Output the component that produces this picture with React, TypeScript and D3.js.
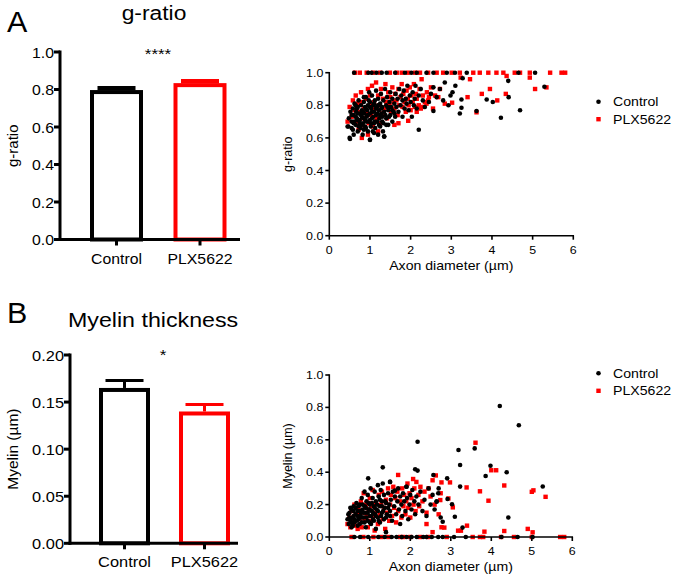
import React from "react";
import * as d3 from "d3";

// ---------- DATA ----------
const groups = ["Control", "PLX5622"];
const gRatioMean = [0.797, 0.834];
const gRatioSem = [0.01, 0.01];
const myelinMean = [0.165, 0.14];
const myelinSem = [0.008, 0.0075];
const gRatioTicks = [0, 0.2, 0.4, 0.6, 0.8, 1.0];
const myelinBarTicks = [0, 0.05, 0.1, 0.15, 0.2];
const scatterYTicks = [0, 0.2, 0.4, 0.6, 0.8, 1.0];
const scatterXTicks = [0, 1, 2, 3, 4, 5, 6];

// g-ratio vs axon diameter: [diameter µm, g-ratio]
const gControl: [number, number][] = [
  [0.45,0.67],[0.48,0.72],[0.5,0.6],[0.52,0.76],[0.55,0.66],[0.55,0.7],[0.58,0.78],[0.6,0.62],[0.6,0.74],[0.62,0.81],
  [0.65,0.68],[0.66,0.76],[0.68,0.72],[0.7,0.64],[0.7,0.79],[0.72,0.83],[0.74,0.7],[0.75,0.75],[0.77,0.66],[0.78,0.8],
  [0.8,0.73],[0.8,0.77],[0.82,0.62],[0.83,0.69],[0.85,0.82],[0.86,0.75],[0.88,0.71],[0.88,0.79],[0.9,0.66],[0.9,0.85],
  [0.92,0.73],[0.93,0.77],[0.95,0.64],[0.95,0.8],[0.97,0.7],[0.98,0.88],[1.0,0.59],[1.0,0.75],[1.0,0.82],[1.02,0.67],
  [1.03,0.78],[1.05,0.72],[1.05,0.86],[1.07,0.64],[1.08,0.8],[1.1,0.69],[1.1,0.76],[1.12,0.83],[1.13,0.66],[1.15,0.74],
  [1.15,0.89],[1.17,0.79],[1.18,0.7],[1.2,0.62],[1.2,0.84],[1.22,0.77],[1.23,0.72],[1.25,0.67],[1.25,0.81],[1.27,0.87],
  [1.28,0.75],[1.3,0.7],[1.3,0.79],[1.32,0.64],[1.33,0.83],[1.35,0.61],[1.35,0.76],[1.37,0.9],[1.4,0.72],[1.4,0.8],
  [1.42,0.85],[1.45,0.68],[1.45,0.77],[1.48,0.82],[1.5,0.74],[1.5,0.88],[1.52,0.79],[1.55,0.7],[1.55,0.84],[1.58,0.76],
  [1.6,0.81],[1.62,0.73],[1.63,0.87],[1.65,0.79],[1.68,0.84],[1.7,0.76],[1.72,0.9],[1.75,0.8],[1.77,0.86],[1.8,0.73],
  [1.8,0.83],[1.83,0.89],[1.85,0.78],[1.88,0.84],[1.9,0.81],[1.92,0.92],[1.95,0.77],[1.98,0.86],[2.0,0.82],[2.03,0.73],
  [2.05,0.88],[2.08,0.8],[2.1,0.84],[2.12,0.92],[2.15,0.78],[2.2,0.86],[2.2,0.65],[2.25,0.9],[2.3,0.83],[2.35,0.79],
  [0.51,0.593],[1.0,0.587],[1.35,0.607],[0.47,0.67],[0.62,0.7],[0.75,0.68],[0.85,0.65],[1.1,0.63],[0.58,0.65],[0.7,0.71],
  [0.6,0.69],[0.65,0.73],[0.68,0.78],[0.72,0.67],[0.75,0.71],[0.78,0.74],[0.8,0.68],[0.83,0.76],[0.85,0.72],[0.88,0.67],
  [0.9,0.78],[0.92,0.7],[0.95,0.74],[0.97,0.83],[1.0,0.71],[1.0,0.79],[1.03,0.69],[1.05,0.76],[1.08,0.73],[1.1,0.81],
  [1.12,0.7],[1.15,0.78],[1.18,0.75],[1.2,0.8],[1.22,0.68],[1.25,0.74],[1.28,0.78],[1.3,0.73],[1.33,0.69],[1.38,0.74],
  [1.4,0.68],[1.43,0.79],[1.47,0.73],[1.5,0.79],[1.55,0.77],[1.6,0.75],[0.55,0.74],[0.65,0.8],[0.7,0.75],[0.85,0.85],
  [3.28,0.966],[2.84,0.94],[4.4,0.95],[5.29,0.914],[3.1,0.92],[3.03,0.88],[2.98,0.86],[3.25,0.836],[2.93,0.8],[3.25,0.785],
  [3.21,0.75],[3.62,0.765],[3.87,0.836],[4.02,0.82],[4.41,0.85],[4.69,0.77],[4.22,0.724],[2.56,0.765],[2.8,0.83],[2.56,0.91],
  [2.72,0.9],[2.64,0.85],[2.45,0.82],[2.5,0.87],
  [0.61,1],[0.96,1],[1.04,1],[1.16,1],[1.29,1],[1.41,1],[1.62,1],[1.86,1],[2.02,1],[2.15,1],[2.39,1],[2.56,1],[2.89,1],[3.09,1],[3.38,1],[4.65,1],[5.06,1]
];
const gPlx: [number, number][] = [
  [0.45,0.7],[0.5,0.79],[0.55,0.73],[0.58,0.83],[0.62,0.77],[0.65,0.86],[0.68,0.7],[0.7,0.81],[0.72,0.65],[0.75,0.76],
  [0.78,0.88],[0.8,0.6],[0.8,0.82],[0.83,0.72],[0.85,0.78],[0.87,0.66],[0.9,0.84],[0.92,0.75],[0.95,0.9],[0.97,0.69],
  [1.0,0.8],[1.0,0.86],[1.03,0.74],[1.05,0.92],[1.07,0.67],[1.1,0.82],[1.12,0.78],[1.15,0.94],[1.17,0.72],[1.2,0.86],
  [1.22,0.8],[1.25,0.69],[1.27,0.9],[1.3,0.75],[1.32,0.84],[1.35,0.78],[1.38,0.93],[1.4,0.82],[1.42,0.72],[1.45,0.88],
  [1.48,0.8],[1.5,0.85],[1.52,0.76],[1.55,0.91],[1.58,0.82],[1.6,0.78],[1.62,0.87],[1.65,0.83],[1.68,0.74],[1.7,0.9],
  [1.72,0.8],[1.75,0.85],[1.78,0.93],[1.8,0.79],[1.82,0.87],[1.85,0.82],[1.88,0.76],[1.9,0.89],[1.93,0.84],[1.95,0.8],
  [1.98,0.91],[2.0,0.77],[2.02,0.86],[2.05,0.82],[2.08,0.93],[2.1,0.79],[2.13,0.87],[2.15,0.84],[2.2,0.8],[2.22,0.9],
  [2.25,0.78],[2.3,0.86],[2.35,0.82],[2.4,0.88],[2.45,0.85],[2.5,0.91],[2.55,0.78],[2.6,0.86],[1.15,0.7],[0.95,0.62],
  [1.6,0.68],[1.2,0.64],[1.94,0.705],[1.7,0.69],[2.15,0.76],[2.31,0.79],[2.39,0.81],[2.27,0.96],
  [3.46,0.96],[3.23,0.97],[4.36,0.98],[4.93,0.97],[5.34,0.91],[5.06,0.9],[3.95,0.9],[3.75,0.87],[3.4,0.85],[3.02,0.816],
  [2.84,0.81],[2.68,0.85],[2.72,0.9],[2.43,0.83],[4.13,0.83],[4.34,0.87],[3.62,0.757],
  [0.63,1],[0.75,1],[0.92,1],[1.08,1],[1.25,1],[1.49,1],[1.66,1],[1.78,1],[1.94,1],[2.11,1],[2.23,1],[2.43,1],[2.64,1],
  [2.8,1],[3.01,1],[3.21,1],[3.54,1],[3.7,1],[3.91,1],[4.11,1],[4.28,1],[4.56,1],[4.69,1],[4.93,1],[5.43,1],[5.71,1],[5.8,1]
];

// myelin thickness vs axon diameter: [diameter µm, myelin µm]
const mControl: [number, number][] = [
  [0.45,0.11],[0.48,0.08],[0.5,0.15],[0.52,0.1],[0.55,0.17],[0.55,0.06],[0.58,0.12],[0.6,0.19],[0.62,0.09],[0.65,0.14],
  [0.67,0.21],[0.7,0.07],[0.7,0.16],[0.72,0.11],[0.75,0.2],[0.77,0.13],[0.8,0.24],[0.8,0.09],[0.82,0.17],[0.85,0.12],
  [0.87,0.28],[0.88,0.19],[0.9,0.06],[0.9,0.15],[0.92,0.22],[0.95,0.1],[0.95,0.26],[0.97,0.17],[1.0,0.13],[1.0,0.2],
  [1.02,0.3],[1.03,0.08],[1.05,0.16],[1.07,0.24],[1.08,0.11],[1.1,0.19],[1.12,0.28],[1.13,0.14],[1.15,0.05],[1.15,0.22],
  [1.17,0.17],[1.2,0.32],[1.2,0.12],[1.22,0.25],[1.25,0.19],[1.25,0.09],[1.27,0.29],[1.3,0.15],[1.3,0.22],[1.32,0.33],
  [1.35,0.11],[1.35,0.26],[1.37,0.18],[1.4,0.03],[1.4,0.21],[1.42,0.14],[1.45,0.27],[1.48,0.2],[1.5,0.34],[1.5,0.16],
  [1.52,0.23],[1.55,0.1],[1.57,0.28],[1.6,0.19],[1.62,0.25],[1.65,0.14],[1.68,0.22],[1.7,0.3],[1.72,0.17],[1.75,0.08],
  [1.75,0.25],[1.78,0.2],[1.8,0.13],[1.82,0.27],[1.85,0.22],[1.88,0.16],[1.9,0.31],[1.92,0.24],[1.95,0.11],[1.98,0.2],
  [2.0,0.26],[2.03,0.17],[2.05,0.29],[2.1,0.22],[2.12,0.14],[2.15,0.25],[2.2,0.2],[2.25,0.28],[2.3,0.16],[2.35,0.23],
  [2.4,0.13],[2.45,0.3],[2.5,0.2],[2.55,0.26],[2.6,0.17],[2.65,0.22],[2.7,0.3],[2.75,0.12],[0.6,0.13],[0.78,0.15],
  [0.5,0.12],[0.55,0.09],[0.6,0.16],[0.62,0.11],[0.65,0.18],[0.68,0.1],[0.7,0.13],[0.72,0.19],[0.75,0.08],[0.77,0.16],
  [0.8,0.12],[0.82,0.2],[0.85,0.15],[0.87,0.09],[0.9,0.18],[0.92,0.12],[0.95,0.15],[0.97,0.21],[1.0,0.09],[1.0,0.17],
  [1.03,0.13],[1.05,0.21],[1.08,0.15],[1.1,0.1],[1.12,0.18],[1.15,0.13],[1.18,0.2],[1.2,0.16],[1.22,0.1],[1.25,0.23],
  [1.28,0.13],[1.3,0.19],[1.33,0.16],[1.38,0.22],[1.4,0.12],[1.45,0.18],[1.5,0.13],[0.47,0.14],[0.52,0.18],[0.58,0.07],
  [4.21,0.809],[4.68,0.69],[2.18,0.588],[3.19,0.537],[3.59,0.547],[3.23,0.444],[3.98,0.44],[4.38,0.4],[3.86,0.377],
  [2.91,0.362],[5.27,0.312],[3.23,0.311],[2.92,0.235],[3.03,0.202],[3.1,0.125],[2.8,0.094],[3.29,0.058],[4.42,0.12],
  [1.32,0.43],[0.96,0.362],[2.12,0.418],[2.18,0.41],[2.57,0.383],[1.5,0.34],[1.91,0.31],[1.62,0.286],[2.65,0.218],[2.69,0.27],
  [0.62,0],[0.76,0],[0.96,0],[1.21,0],[1.37,0],[1.54,0],[1.66,0],[1.79,0],[1.91,0],[2.03,0],[2.16,0],[2.32,0],[2.4,0],
  [2.53,0],[2.69,0],[2.8,0],[3.08,0],[3.37,0],[4.25,0],[4.65,0],[5.02,0]
];
const mPlx: [number, number][] = [
  [0.45,0.08],[0.5,0.12],[0.52,0.06],[0.55,0.16],[0.6,0.1],[0.62,0.2],[0.65,0.07],[0.68,0.14],[0.7,0.05],[0.72,0.18],
  [0.75,0.11],[0.78,0.22],[0.8,0.06],[0.82,0.15],[0.85,0.27],[0.87,0.1],[0.9,0.2],[0.92,0.13],[0.95,0.06],[0.97,0.17],
  [1.0,0.24],[1.02,0.1],[1.05,0.19],[1.07,0.29],[1.1,0.13],[1.12,0.04],[1.15,0.21],[1.17,0.16],[1.2,0.08],[1.22,0.26],
  [1.25,0.14],[1.28,0.2],[1.3,0.28],[1.32,0.11],[1.35,0.18],[1.38,0.05],[1.4,0.23],[1.42,0.15],[1.45,0.3],[1.48,0.1],
  [1.5,0.2],[1.52,0.26],[1.55,0.13],[1.58,0.31],[1.6,0.18],[1.63,0.24],[1.65,0.09],[1.68,0.28],[1.7,0.16],[1.7,0.383],
  [1.75,0.22],[1.78,0.12],[1.8,0.3],[1.83,0.19],[1.85,0.26],[1.88,0.14],[1.9,0.22],[1.93,0.33],[1.95,0.18],[1.98,0.27],
  [2.0,0.12],[2.03,0.24],[2.07,0.358],[2.08,0.2],[2.1,0.3],[2.13,0.16],[2.15,0.34],[2.2,0.26],[2.22,0.19],[2.25,0.31],
  [2.3,0.22],[2.35,0.28],[2.4,0.15],[2.45,0.3],[2.5,0.25],[2.55,0.35],[2.6,0.2],[2.63,0.38],[2.7,0.14],[2.75,0.27],
  [3.61,0.582],[4.0,0.412],[4.12,0.412],[3.39,0.306],[3.72,0.282],[4.32,0.318],[3.93,0.224],[5.0,0.279],[5.04,0.288],
  [5.34,0.248],[2.77,0.337],[2.98,0.337],[2.94,0.238],[2.74,0.228],[3.05,0.183],[3.4,0.07],[3.18,0.039],[3.25,0.039],
  [3.83,0.033],[4.32,0.037],[4.9,0.05],[5.02,0.029],[2.84,0.058],[2.55,0.03],[2.77,0.06],[2.4,0.08],
  [0.55,0],[0.84,0],[1.09,0],[1.29,0],[1.46,0],[1.75,0],[1.83,0],[2.0,0],[2.24,0],[2.44,0],
  [2.9,0],[3.54,0],[3.72,0],[3.8,0],[4.24,0],[4.56,0],[5.0,0],[5.7,0],[5.8,0]
];

// ---------- HELPERS ----------
const FONT = "'Liberation Sans', Arial, Helvetica, sans-serif";
const SX = 1.13;

function T({ x, y, size, anchor = "middle", sx = SX, children }: any) {
  return (
    <text
      transform={`translate(${x},${y}) scale(${sx},1)`}
      fontSize={size}
      textAnchor={anchor}
      fill="#000"
    >
      {children}
    </text>
  );
}
function VT({ x, y, size, children }: any) {
  return (
    <text transform={`translate(${x},${y}) rotate(-90)`} fontSize={size} textAnchor="middle" fill="#000">
      {children}
    </text>
  );
}

const colors = ["#000000", "#ff0000"];

function BarPanel({ means, sems, yDomain, yRange, ticks, fmt, xAxisX, xAxisEnd, centers, barW, capW, tickSize, sig, sigX, sigY, yLabel, yLabelX, capStroke }: any) {
  const y = d3.scaleLinear().domain(yDomain).range(yRange);
  const x = d3.scalePoint<string>().domain(groups).range(centers);
  const y0 = y(0);
  return (
    <g>
      {groups.map((g, i) => {
        const cx = x(g)!;
        const top = y(means[i]);
        const errTop = y(means[i] + sems[i]);
        return (
          <g key={g}>
            <line x1={cx} x2={cx} y1={top} y2={errTop} stroke={colors[i]} strokeWidth={3} />
            <line x1={cx - capW / 2} x2={cx + capW / 2} y1={errTop} y2={errTop} stroke={colors[i]} strokeWidth={capStroke} />
            <rect x={cx - barW / 2} y={top + 2} width={barW} height={y0 - top - 2} fill="#fff" stroke={colors[i]} strokeWidth={4} />
          </g>
        );
      })}
      <line x1={xAxisX} x2={xAxisX} y1={y(yDomain[1]) - 1.5} y2={y0 + 1.5} stroke="#000" strokeWidth={3} />
      <line x1={xAxisX - 1.5} x2={xAxisEnd} y1={y0} y2={y0} stroke="#000" strokeWidth={3} />
      {ticks.map((t: number) => (
        <g key={t}>
          <line x1={xAxisX - 6} x2={xAxisX} y1={y(t)} y2={y(t)} stroke="#000" strokeWidth={3} />
          <T x={xAxisX - 6} y={y(t) + 5.5} size={tickSize} anchor="end">{fmt(t)}</T>
        </g>
      ))}
      {groups.map((g) => (
        <g key={g}>
          <line x1={x(g)} x2={x(g)} y1={y0} y2={y0 + 6} stroke="#000" strokeWidth={3} />
          <T x={x(g)} y={y0 + 24} size={tickSize}>{g}</T>
        </g>
      ))}
      <T x={sigX} y={sigY} size={15}>{sig}</T>
      <VT x={yLabelX} y={(y0 + y(yDomain[1])) / 2} size={tickSize + 1}>{yLabel}</VT>
    </g>
  );
}

function ScatterPanel({ ctrl, plx, xRange, yRange, yLabel, legendY }: any) {
  const x = d3.scaleLinear().domain([0, 6]).range(xRange);
  const y = d3.scaleLinear().domain([0, 1]).range(yRange);
  const fmtY = d3.format(".1f");
  const s = 4.4;
  return (
    <g>
      {plx.map((p: [number, number], i: number) => (
        <rect key={"p" + i} x={x(p[0]) - s / 2} y={y(p[1]) - s / 2} width={s} height={s} fill="#ff0000" />
      ))}
      {ctrl.map((p: [number, number], i: number) => (
        <circle key={"c" + i} cx={x(p[0])} cy={y(p[1])} r={2.3} fill="#000" />
      ))}
      <line x1={xRange[0]} x2={xRange[0]} y1={yRange[1] - 0.75} y2={yRange[0]} stroke="#000" strokeWidth={1.6} />
      <line x1={xRange[0]} x2={xRange[1] + 0.75} y1={yRange[0]} y2={yRange[0]} stroke="#000" strokeWidth={1.6} />
      {scatterYTicks.map((t) => (
        <g key={"y" + t}>
          <line x1={xRange[0] - 4} x2={xRange[0]} y1={y(t)} y2={y(t)} stroke="#000" strokeWidth={1.6} />
          <T x={xRange[0] - 6} y={y(t) + 4} size={11} anchor="end">{fmtY(t)}</T>
        </g>
      ))}
      {scatterXTicks.map((t) => (
        <g key={"x" + t}>
          <line x1={x(t)} x2={x(t)} y1={yRange[0]} y2={yRange[0] + 4} stroke="#000" strokeWidth={1.6} />
          <T x={x(t)} y={yRange[0] + 18} size={11}>{String(t)}</T>
        </g>
      ))}
      <T x={(xRange[0] + xRange[1]) / 2} y={yRange[0] + 34} size={12.5}>Axon diameter (µm)</T>
      <VT x={xRange[0] - 37} y={(yRange[0] + yRange[1]) / 2} size={12.5}>{yLabel}</VT>
      <circle cx={598.5} cy={legendY} r={2.3} fill="#000" />
      <T x={613} y={legendY + 4.5} size={12.5} anchor="start">Control</T>
      <rect x={598.5 - 2.2} y={legendY + 17.5 - 2.2} width={4.4} height={4.4} fill="#ff0000" />
      <T x={613} y={legendY + 22} size={12.5} anchor="start">PLX5622</T>
    </g>
  );
}

export default function App() {
  return (
    <svg
      width={677}
      height={581}
      style={{ position: "absolute", left: 0, top: 0, background: "#fff" }}
      fontFamily={FONT}
    >
      <rect width={677} height={581} fill="#fff" />
      <T x={7} y={32} size={29} anchor="start" sx={1.05}>A</T>
      <T x={154} y={20} size={19.5} sx={1.17}>g-ratio</T>
      <BarPanel
        means={gRatioMean} sems={gRatioSem} yDomain={[0, 1]} yRange={[239.5, 52]}
        ticks={gRatioTicks} fmt={d3.format(".1f")} xAxisX={60} xAxisEnd={240}
        centers={[116.5, 200]} barW={49} capW={38} tickSize={14} sig="****" sigX={158} sigY={59}
        yLabel="g-ratio" yLabelX={18} capStroke={4.5}
      />
      <ScatterPanel ctrl={gControl} plx={gPlx} xRange={[329.3, 573.3]} yRange={[235.7, 72.7]} yLabel="g-ratio" legendY={101.7} />

      <T x={7} y={323} size={29} anchor="start" sx={1.05}>B</T>
      <T x={68} y={327} size={19.5} anchor="start" sx={1.19}>Myelin thickness</T>
      <BarPanel
        means={myelinMean} sems={myelinSem} yDomain={[0, 0.2]} yRange={[543.3, 355]}
        ticks={myelinBarTicks} fmt={d3.format(".2f")} xAxisX={70} xAxisEnd={238}
        centers={[124.5, 204.5]} barW={47} capW={38} tickSize={14.5} sig="*" sigX={163} sigY={360}
        yLabel="Myelin (µm)" yLabelX={18} capStroke={3}
      />
      <ScatterPanel ctrl={mControl} plx={mPlx} xRange={[329.3, 572.3]} yRange={[537, 375]} yLabel="Myelin (µm)" legendY={373.3} />
    </svg>
  );
}
